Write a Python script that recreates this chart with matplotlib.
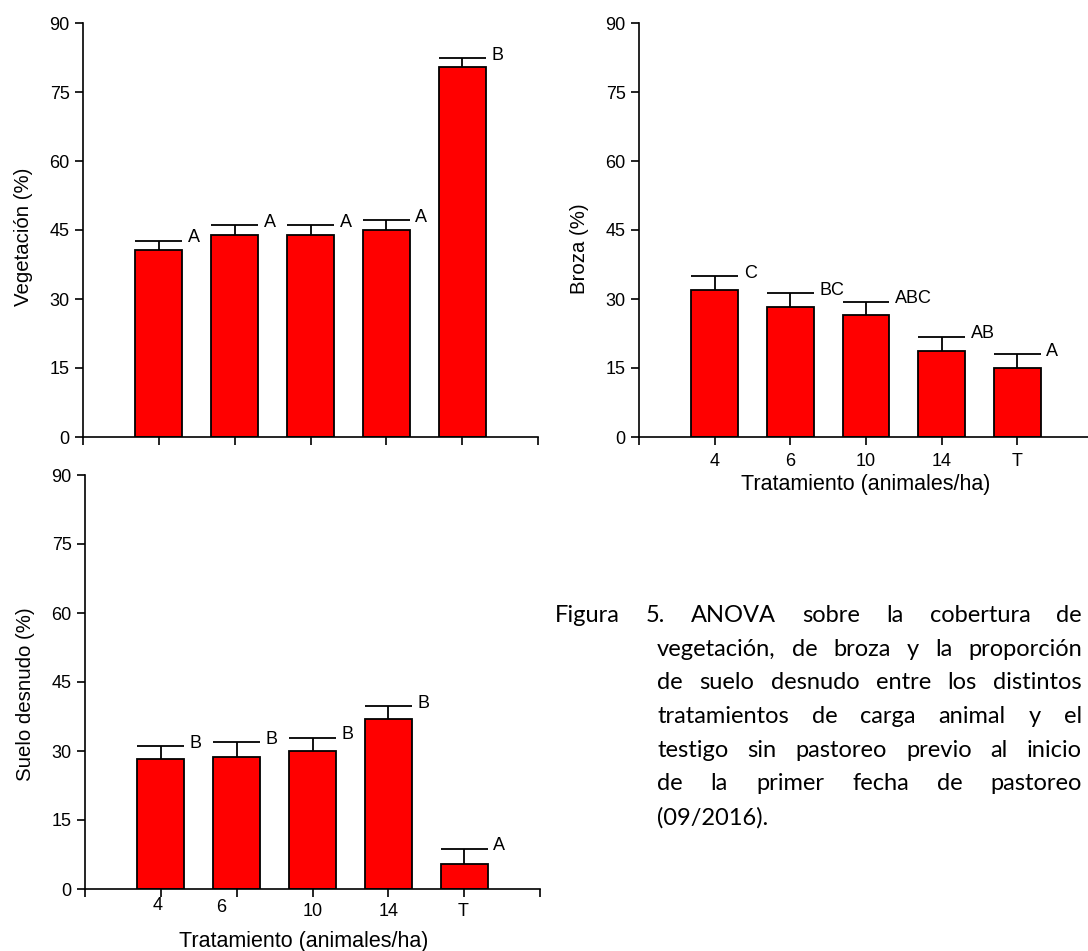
import matplotlib
matplotlib.use("Agg")
from matplotlib import pyplot as plt

categories = ["4", "6", "10", "14", "T"]

veg = [40.6, 44.0, 44.0, 45.1, 80.4]
veg_err = [2.1, 2.0, 2.0, 2.1, 2.0]
veg_letters = ["A", "A", "A", "A", "B"]

broza = [31.9, 28.2, 26.6, 18.7, 14.9]
broza_err = [3.1, 3.1, 2.8, 3.1, 3.1]
broza_letters = ["C", "BC", "ABC", "AB", "A"]

suelo = [28.2, 28.7, 30.1, 36.9, 5.5]
suelo_err = [2.8, 3.2, 2.8, 2.8, 3.3]
suelo_letters = ["B", "B", "B", "B", "A"]

caption_lines = [
    "Figura 5. ANOVA sobre la cobertura de",
    "vegetación, de broza y la proporción",
    "de suelo desnudo entre los distintos",
    "tratamientos de carga animal y el",
    "testigo sin pastoreo previo al inicio",
    "de la primer fecha de pastoreo",
    "(09/2016).",
]

plt.rcParams["font.family"] = ["Liberation Sans", "DejaVu Sans"]
W, H = 1088, 951
fig = plt.figure(figsize=(W / 100, H / 100), dpi=100)

BAR_W = 0.62
FS = 13
YLABEL_FS = 14.7
XLABEL_FS = 15.5


def px_box(left, right, top, bottom):
    return [left / W, 1 - bottom / H, (right - left) / W, (bottom - top) / H]


def panel(rect, vals, errs, letters, ylabel, label_xy):
    ax = fig.add_axes(rect)
    x = list(range(1, len(vals) + 1))
    ax.bar(x, vals, width=BAR_W, color="#ff0000", edgecolor="black",
           linewidth=1.3, zorder=2)
    tops = [v + e for v, e in zip(vals, errs)]
    ax.vlines(x, vals, tops, color="black", linewidth=1.3, zorder=1)
    ax.hlines(tops, [xi - BAR_W / 2 for xi in x], [xi + BAR_W / 2 for xi in x],
              color="black", linewidth=1.3, zorder=1)
    for xi, t, lab in zip(x, tops, letters):
        ax.annotate(lab, (xi + BAR_W / 2, t), xytext=(4, 2),
                    textcoords="offset points", ha="left", va="center",
                    fontsize=FS)
    ax.set_xlim(0, len(vals) + 1)
    ax.set_ylim(0, 90)
    ax.set_yticks([0, 15, 30, 45, 60, 75, 90])
    ax.set_xticks(range(0, len(vals) + 2))
    ax.set_xticklabels([""] * (len(vals) + 2))
    for s in ["top", "right"]:
        ax.spines[s].set_visible(False)
    for s in ["left", "bottom"]:
        ax.spines[s].set_linewidth(1.2)
        ax.spines[s].set_clip_on(False)
    ax.tick_params(direction="out", length=5.5, width=1.2, labelsize=FS, pad=4)
    ax.set_ylabel(ylabel, fontsize=YLABEL_FS)
    ax.yaxis.set_label_coords(*label_xy)
    return ax


ax1 = panel(px_box(83, 538, 23, 437), veg, veg_err, veg_letters,
            "Vegetación (%)", (-0.11, 0.484))

ax2 = panel(px_box(639, 1093, 23, 437), broza, broza_err, broza_letters,
            "Broza (%)", (-0.11, 0.455))
ax2.set_xticklabels([""] + categories + [""])
ax2.tick_params(axis="x", pad=6)
ax2.set_xlabel("Tratamiento (animales/ha)", fontsize=XLABEL_FS)
ax2.xaxis.set_label_coords(0.5, -0.09)

ax3 = panel(px_box(85, 540, 475, 889), suelo, suelo_err, suelo_letters,
            "Suelo desnudo (%)", (-0.11, 0.471))
# tick labels in this panel sit slightly off their ticks in the original
label_shift = [(-3, -16), (-15, -18), (0, -23), (0, -23), (-1, -23)]
for i, (lab, (dx, dy)) in enumerate(zip(categories, label_shift)):
    ax3.annotate(lab, (i + 1, 0), xycoords=("data", "axes fraction"),
                 xytext=(dx * 0.72, dy * 0.72), textcoords="offset points",
                 ha="center", va="center", fontsize=FS)
ax3.text(0.481, -0.127, "Tratamiento (animales/ha)", transform=ax3.transAxes,
         ha="center", va="center", fontsize=XLABEL_FS)

# justified caption
fig.canvas.draw()
renderer = fig.canvas.get_renderer()
cap_family = ["Lato", "DejaVu Sans"]
first_left, body_left, right_px = 555, 657, 1082
line_step = 33.7
min_gap_em = 0.16

# fit font size so the widest line still keeps a small gap between words
probe = 10
ratio = 0
for i, line in enumerate(caption_lines[:-1]):
    words = line.split(" ")
    ws = []
    for w in words:
        t = fig.text(0, 0, w, fontsize=probe, family=cap_family)
        ws.append(t.get_window_extent(renderer).width)
        t.remove()
    need = sum(ws) + (len(words) - 1) * min_gap_em * renderer.points_to_pixels(probe)
    avail = right_px - (first_left if i == 0 else body_left)
    ratio = max(ratio, need / avail)
cap_fs = min(17, probe / ratio)

for i, line in enumerate(caption_lines):
    left_px = first_left if i == 0 else body_left
    base_y = 1 - (622 + line_step * i) / H
    words = line.split(" ")
    texts = [fig.text(0, base_y, w, ha="left", va="baseline",
                      fontsize=cap_fs, family=cap_family) for w in words]
    widths = [t.get_window_extent(renderer).width for t in texts]
    if i == len(caption_lines) - 1 or len(words) == 1:
        gap = renderer.points_to_pixels(cap_fs) * 0.2
    else:
        gap = (right_px - left_px - sum(widths)) / (len(words) - 1)
    xpos = left_px
    for t, w in zip(texts, widths):
        t.set_x(xpos / W)
        xpos += w + gap

fig.savefig("out.png", dpi=100)
